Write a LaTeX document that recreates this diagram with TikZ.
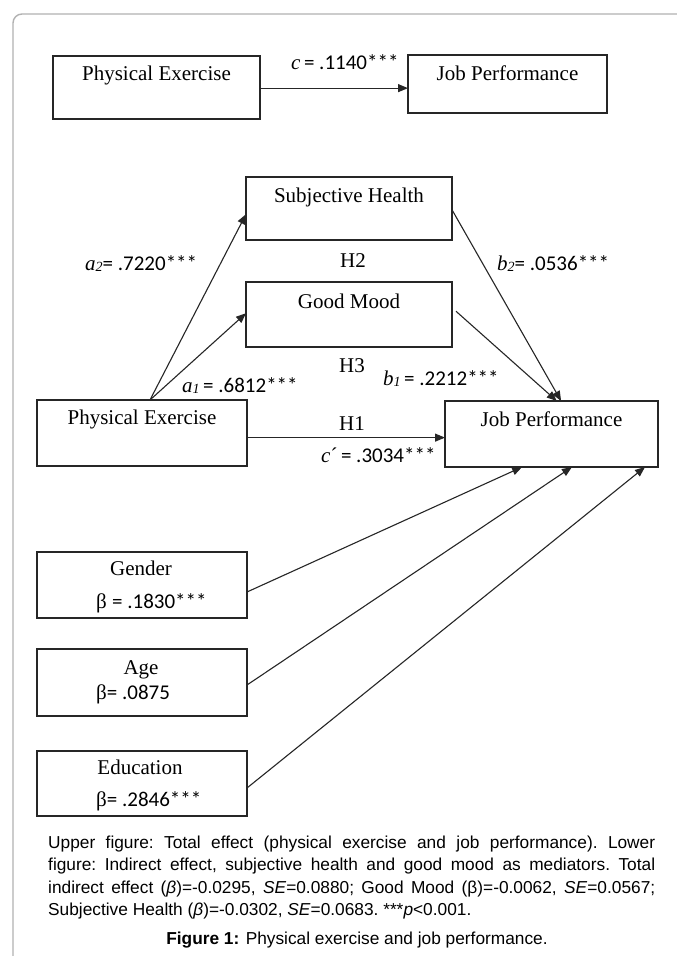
\documentclass[tikz,border=0pt]{standalone}
\usepackage{fontspec}
\setmainfont{Liberation Serif}
\newfontfamily\numf{Carlito}
\newfontfamily\capf{Liberation Sans}
\usetikzlibrary{arrows.meta,calc}
\tikzset{
  box/.style={draw=black!85, line width=1.2pt, inner sep=0pt, outer sep=0pt},
  boxtxt/.style={inner sep=0pt, anchor=base, font=\fontsize{21}{25}\selectfont},
  coef/.style={inner sep=0pt, anchor=base west, font=\fontsize{21}{25}\selectfont},
  hyp/.style={inner sep=0pt, anchor=base, font=\fontsize{21}{25}\selectfont},
  arr/.style={draw=black!85, line width=1.1pt, -{Triangle[length=10pt,width=8pt]}},
  frame/.style={draw=black!30, line width=1.4pt, rounded corners=9pt}
}
\newcommand{\sub}[1]{\raisebox{-1pt}{\fontsize{14}{14}\selectfont\itshape #1}}
\begin{document}
\begin{tikzpicture}[x=1pt,y=-1pt]
\clip (0,0) rectangle (677,956);
\fill[white] (0,0) rectangle (677,956);
\draw[frame] (13,1000) |- (720,14);

% ---------- upper figure ----------
\node[box, minimum width=207pt, minimum height=63pt] (tpe) at (156.5,87.5) {};
\node[boxtxt] (tpet) at (156.5,80) {Physical Exercise};
\node[box, minimum width=199pt, minimum height=58pt] (tjp) at (507.5,84) {};
\node[boxtxt] (tjpt) at (507.5,80) {Job Performance};
\draw[arr] ($(tpe.north east)!0.51!(tpe.south east)$) coordinate (ts) -- (ts -| tjp.west);
\node[coef] (lc) at (291,69.5) {{\itshape c}\,{\numf = .1140***}};

% ---------- lower figure ----------
\node[box, minimum width=206pt, minimum height=63pt] (sh) at (349,208.5) {};
\node[boxtxt] (sht) at (349,202) {Subjective Health};
\node[box, minimum width=206pt, minimum height=65pt] (gm) at (349,314.5) {};
\node[boxtxt] (gmt) at (349,308) {Good Mood};
\node[box, minimum width=210pt, minimum height=66pt] (pe) at (142,433) {};
\node[boxtxt] (pet) at (142,424) {Physical Exercise};
\node[box, minimum width=213pt, minimum height=66pt] (jp) at (551.5,434) {};
\node[boxtxt] (jpt) at (551.5,426) {Job Performance};

\node[hyp] (h2) at (353,267) {H2};
\node[hyp] (h3) at (352,372) {H3};
\node[hyp] (h1) at (352,430) {H1};

% paths
\coordinate (pes) at ($(pe.north west)!0.538!(pe.north east)$);
\draw[arr] (pes) -- ($(sh.north west)!0.59!(sh.south west)$);
\draw[arr] (pes) -- ($(gm.north west)!0.48!(gm.south west)$);
\draw[arr] ($(sh.north east)!0.52!(sh.south east)$) -- ($(jp.north west)!0.545!(jp.north east)$);
\draw[arr] ($(gm.north east)!0.45!(gm.south east)$) ++(4,0) -- ($(jp.north west)!0.525!(jp.north east)$);
\draw[arr] ($(pe.north east)!0.57!(pe.south east)$) coordinate (hs) -- (hs -| jp.west);

\node[coef] (la2) at (85,270) {{\itshape a}\sub{2}{\numf = .7220***}};
\node[coef] (lb2) at (497,270) {{\itshape b}\sub{2}{\numf = .0536***}};
\node[coef] (la1) at (182,392) {{\itshape a}\sub{1}\,{\numf = .6812***}};
\node[coef] (lb1) at (383,385) {{\itshape b}\sub{1}\,{\numf = .2212***}};
\node[coef] (lcp) at (321,462) {{\itshape c}´\,{\numf = .3034***}};

% ---------- controls ----------
\node[box, minimum width=210pt, minimum height=66pt] (gen) at (142,585) {};
\node[boxtxt] (gent) at (141,575) {Gender};
\node[coef] (genb) at (96,608) {β {\numf = .1830***}};
\node[box, minimum width=210pt, minimum height=67pt] (age) at (142,682.5) {};
\node[boxtxt] (aget) at (141,674) {Age};
\node[coef] (ageb) at (96,699) {β{\numf = .0875}};
\node[box, minimum width=210pt, minimum height=65pt] (edu) at (142,783.5) {};
\node[boxtxt] (edut) at (140,774) {Education};
\node[coef] (edub) at (96,806) {β{\numf = .2846***}};

\draw[arr] ($(gen.north east)!0.606!(gen.south east)$) -- ($(jp.south west)!0.362!(jp.south east)$);
\draw[arr] ($(age.north east)!0.537!(age.south east)$) -- ($(jp.south west)!0.596!(jp.south east)$);
\draw[arr] ($(edu.north east)!0.569!(edu.south east)$) -- ($(jp.south west)!0.939!(jp.south east)$);

% ---------- caption ----------
\node[anchor=north west, inner sep=0pt, text width=607pt, align=justify,
      font=\capf\fontsize{17.3}{22.4}\selectfont\frenchspacing] (cap) at (48,835.5)
{Upper figure: Total effect (physical exercise and job performance). Lower\linebreak
figure: Indirect effect, subjective health and good mood as mediators. Total\linebreak
indirect effect (\textit{β})=-0.0295, \textit{SE}=0.0880; Good Mood (β)=-0.0062, \textit{SE}=0.0567;\linebreak
Subjective Health (\textit{β})=-0.0302, \textit{SE}=0.0683. ***\textit{p}<0.001.};
\node[anchor=base, inner sep=0pt, font=\capf\fontsize{17.3}{22.4}\selectfont] (title) at (357,944)
{\textbf{Figure 1:} Physical exercise and job performance.};
\end{tikzpicture}
\end{document}
